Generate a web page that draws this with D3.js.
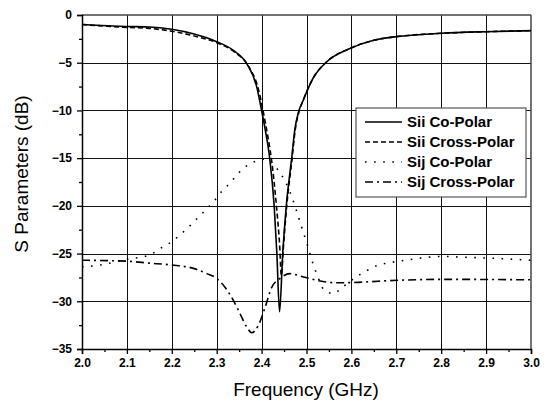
<!DOCTYPE html>
<html>
<head>
<meta charset="utf-8">
<script src="https://cdn.jsdelivr.net/npm/d3@7"></script>
<style>
  body { margin: 0; background: #fff; }
  svg { display: block; font-family: "Liberation Sans", Arial, sans-serif; }
  .tick text { font-weight: bold; font-size: 12px; fill: #000; }
</style>
</head>
<body>
<div id="chart"></div>
<script>
// frequency in GHz, values in dB
var siiCoFreq  = [2.00, 2.10, 2.15, 2.20, 2.25, 2.30, 2.337, 2.367, 2.389, 2.400, 2.408, 2.418, 2.428, 2.434, 2.440,
                  2.447, 2.455, 2.467, 2.474, 2.482, 2.493, 2.515, 2.545, 2.597, 2.65, 2.70, 2.80, 2.90, 3.00];
var siiCo      = [-1.0, -1.2, -1.25, -1.5, -2.0, -2.8, -3.7, -5.1, -7.5, -10.0, -12.0, -15.0, -20.0, -25.0, -31.1,
                  -25.0, -20.0, -15.0, -12.0, -10.2, -8.9, -6.6, -4.9, -3.5, -2.65, -2.27, -1.92, -1.75, -1.64];

var siiCrossFreq = [2.00, 2.10, 2.15, 2.20, 2.25, 2.30, 2.34, 2.37, 2.393, 2.404, 2.413, 2.423, 2.433, 2.440, 2.444,
                    2.449, 2.456, 2.468, 2.475, 2.483, 2.493, 2.515, 2.545, 2.597, 2.65, 2.70, 2.80, 2.90, 3.00];
var siiCross     = [-1.0, -1.3, -1.4, -1.7, -2.2, -2.9, -3.9, -5.3, -7.8, -10.2, -12.5, -15.5, -20.0, -24.0, -27.3,
                    -24.0, -20.0, -15.0, -12.0, -10.2, -8.9, -6.6, -4.9, -3.5, -2.65, -2.27, -1.92, -1.75, -1.64];

var sijCoFreq = [2.00, 2.04, 2.10, 2.15, 2.18, 2.20, 2.218, 2.237, 2.257, 2.276, 2.294, 2.311, 2.33, 2.348, 2.367,
                 2.388, 2.408, 2.426, 2.442, 2.462, 2.477, 2.489, 2.502, 2.514, 2.525, 2.539, 2.56, 2.578, 2.60,
                 2.619, 2.638, 2.66, 2.68, 2.72, 2.80, 2.86, 2.92, 3.00];
var sijCo     = [-26.4, -26.2, -25.6, -25.15, -24.3, -23.75, -23.05, -22.25, -21.3, -20.4, -19.5, -18.5, -17.6, -16.6, -15.8,
                 -15.3, -15.1, -15.7, -16.6, -18.4, -20.4, -22.2, -24.1, -26.0, -27.4, -28.8, -29.2, -28.6, -27.8,
                 -27.2, -26.7, -26.2, -26.0, -25.7, -25.3, -25.4, -25.5, -25.7];

var sijCrossFreq = [2.00, 2.10, 2.15, 2.20, 2.248, 2.278, 2.30, 2.318, 2.337, 2.352, 2.367, 2.378, 2.393, 2.408, 2.422,
                    2.441, 2.463, 2.486, 2.523, 2.56, 2.59, 2.641, 2.679, 2.811, 3.00];
var sijCross     = [-25.7, -25.8, -26.0, -26.2, -26.55, -27.1, -27.6, -28.5, -29.9, -31.3, -32.7, -33.3, -32.5, -30.6, -28.6,
                    -27.6, -27.1, -27.35, -27.8, -28.05, -28.05, -27.95, -27.85, -27.7, -27.75];

var legendNames = ["Sii Co-Polar", "Sii Cross-Polar", "Sij Co-Polar", "Sij Cross-Polar"];
var xTicks = [2.0, 2.1, 2.2, 2.3, 2.4, 2.5, 2.6, 2.7, 2.8, 2.9, 3.0];
var yTicks = [0, -5, -10, -15, -20, -25, -30, -35];

var series = [
    {name: legendNames[0], f: siiCoFreq, v: siiCo, dash: null, w: 1.6},
    {name: legendNames[1], f: siiCrossFreq, v: siiCross, dash: "5,3", w: 1.6},
    {name: legendNames[2], f: sijCoFreq, v: sijCo, dash: "1.6,7.5", w: 1.6},
    {name: legendNames[3], f: sijCrossFreq, v: sijCross, dash: "8,4,2,4", w: 1.6}
];

var W = 547, H = 405;
var svg = d3.select("#chart").append("svg").attr("width", W).attr("height", H);

var x = d3.scaleLinear().domain([2, 3]).range([82, 531]);
var y = d3.scaleLinear().domain([-35, 0]).range([349, 15]);

// grid
var grid = svg.append("g");
grid.selectAll(".vg").data(xTicks.slice(1, -1)).enter().append("line")
    .attr("x1", function(d){ return Math.round(x(d)) + 0.5; })
    .attr("x2", function(d){ return Math.round(x(d)) + 0.5; })
    .attr("y1", y(0)).attr("y2", y(-35))
    .attr("stroke", "#111").attr("stroke-width", 1);
grid.selectAll(".hg").data(yTicks.slice(1, -1)).enter().append("line")
    .attr("y1", function(d){ return Math.round(y(d)) + 0.5; })
    .attr("y2", function(d){ return Math.round(y(d)) + 0.5; })
    .attr("x1", x(2)).attr("x2", x(3))
    .attr("stroke", "#111").attr("stroke-width", 1);

// frame top/right
svg.append("line").attr("x1", x(2)).attr("x2", x(3)).attr("y1", y(0)).attr("y2", y(0))
    .attr("stroke", "#444").attr("stroke-width", 1.5);
svg.append("line").attr("x1", x(3)).attr("x2", x(3)).attr("y1", y(0)).attr("y2", y(-35))
    .attr("stroke", "#444").attr("stroke-width", 1.5);

// axes: minor ticks first, then major with labels
var minorX = d3.range(2.05, 3, 0.1);
var minorY = d3.range(-2.5, -35, -5);

svg.append("g").attr("transform", "translate(0," + y(-35) + ")")
    .call(d3.axisBottom(x).tickValues(minorX).tickSize(3).tickFormat(""))
    .call(function(g){ g.select(".domain").remove(); g.selectAll("line").attr("stroke-width", 1.3); });
svg.append("g").attr("transform", "translate(" + x(2) + ",0)")
    .call(d3.axisLeft(y).tickValues(minorY).tickSize(3).tickFormat(""))
    .call(function(g){ g.select(".domain").remove(); g.selectAll("line").attr("stroke-width", 1.3); });

var xAxis = svg.append("g").attr("transform", "translate(0," + y(-35) + ")")
    .call(d3.axisBottom(x).tickValues(xTicks).tickSize(5).tickPadding(4).tickFormat(d3.format(".1f")));
xAxis.select(".domain").attr("stroke-width", 1.5);
xAxis.selectAll("line").attr("stroke-width", 1.3);

var yAxis = svg.append("g").attr("transform", "translate(" + x(2) + ",0)")
    .call(d3.axisLeft(y).tickValues(yTicks).tickSize(5).tickPadding(5).tickFormat(d3.format("d")));
yAxis.select(".domain").attr("stroke-width", 1.5);
yAxis.selectAll("line").attr("stroke-width", 1.3);

// curves
var line = d3.line()
    .x(function(d){ return x(d[0]); })
    .y(function(d){ return y(d[1]); })
    .curve(d3.curveMonotoneX);

series.forEach(function(s){
    svg.append("path")
        .datum(s.f.map(function(f, i){ return [f, s.v[i]]; }))
        .attr("d", line)
        .attr("fill", "none")
        .attr("stroke", "#000")
        .attr("stroke-width", s.w)
        .attr("stroke-dasharray", s.dash);
});

// legend
var lg = svg.append("g").attr("transform", "translate(356,108)");
lg.append("rect").attr("width", 170).attr("height", 89)
    .attr("fill", "#fff").attr("stroke", "#555").attr("stroke-width", 1.2);
series.forEach(function(s, i){
    var cy = 14 + i * 20;
    lg.append("line").attr("x1", 9).attr("x2", 46).attr("y1", cy).attr("y2", cy)
        .attr("stroke", "#000").attr("stroke-width", s.w).attr("stroke-dasharray", s.dash);
    lg.append("text").attr("x", 51).attr("y", cy + 5)
        .attr("font-size", "15px").attr("font-weight", "bold").text(s.name);
});

// axis titles
svg.append("text").attr("x", 306).attr("y", 396).attr("text-anchor", "middle")
    .attr("font-size", "19px").text("Frequency (GHz)");
svg.append("text").attr("transform", "translate(28,174) rotate(-90)").attr("text-anchor", "middle")
    .attr("font-size", "19px").text("S Parameters (dB)");
</script>
</body>
</html>
